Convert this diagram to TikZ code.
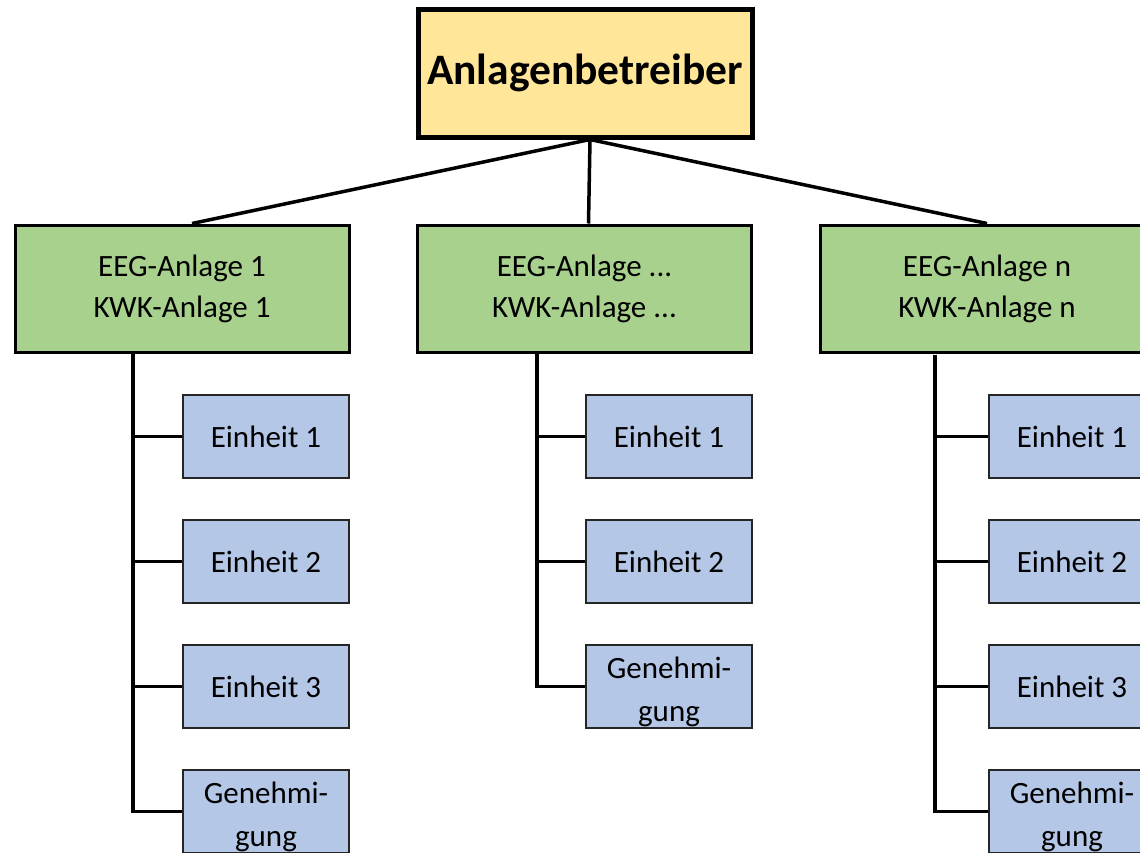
\documentclass[tikz,border=0pt]{standalone}
\usepackage{fontspec}
\setmainfont{Carlito}
\definecolor{topfill}{HTML}{FFE699}
\definecolor{grfill}{HTML}{A9D18E}
\definecolor{blfill}{HTML}{B4C7E7}
\newcommand{\gentext}{\raisebox{-11pt}[0pt][0pt]{\begin{tabular}{@{}c@{}}Genehmi-\\gung\end{tabular}}}
\begin{document}
\begin{tikzpicture}[x=1pt,y=-1pt,
  topbox/.style={draw=black,line width=5pt,fill=topfill,minimum width=334pt,minimum height=128pt,inner sep=0pt,font=\fontsize{43.5}{50}\selectfont\bfseries},
  grbox/.style={draw=black,line width=3pt,fill=grfill,minimum width=334pt,minimum height=127pt,inner sep=0pt,align=center,font=\fontsize{31}{41}\selectfont},
  blbox/.style={draw=black!85,line width=2pt,fill=blfill,minimum width=166pt,minimum height=83pt,inner sep=0pt,align=center,font=\fontsize{31}{43}\selectfont},
  conn/.style={draw=black,line width=3.5pt},
  trunk/.style={draw=black,line width=3.5pt}]
\useasboundingbox (0,0) rectangle (1140,852);
\clip (0,0) rectangle (1140,852);
\node[topbox] (top) at (585,73) {Anlagenbetreiber};
\node[grbox] (g1) at (182,288.5) {EEG-Anlage 1\\KWK-Anlage 1};
\node[grbox] (g2) at (584.5,288.5) {EEG-Anlage ...\\KWK-Anlage ...};
\node[grbox] (g3) at (987,288.5) {EEG-Anlage n\\KWK-Anlage n};
\draw[conn] ([xshift=5pt]top.south) -- ([xshift=10pt]g1.north);
\draw[conn] ([xshift=5pt]top.south) -- ([xshift=4pt]g2.north);
\draw[conn] ([xshift=5pt]top.south) -- (g3.north);
% left column
\node[blbox] (a1) at (266,436.5) {Einheit 1};
\node[blbox] (a2) at (266,561.5) {Einheit 2};
\node[blbox] (a3) at (266,686.5) {Einheit 3};
\node[blbox] (a4) at (266,811.5) {\gentext};
% middle column
\node[blbox] (b1) at (669,436.5) {Einheit 1};
\node[blbox] (b2) at (669,561.5) {Einheit 2};
\node[blbox] (b3) at (669,686.5) {\gentext};
% right column
\node[blbox] (c1) at (1072,436.5) {Einheit 1};
\node[blbox] (c2) at (1072,561.5) {Einheit 2};
\node[blbox] (c3) at (1072,686.5) {Einheit 3};
\node[blbox] (c4) at (1072,811.5) {\gentext};
\coordinate (ta) at (133,353.5);
\coordinate (tb) at (537,353.5);
\coordinate (tc) at (935,355);
\foreach \n in {a1,a2,a3,a4} {\draw[trunk] (ta) |- (\n.west);}
\foreach \n in {b1,b2,b3} {\draw[trunk] (tb) |- (\n.west);}
\foreach \n in {c1,c2,c3,c4} {\draw[trunk] (tc) |- (\n.west);}
\end{tikzpicture}
\end{document}
